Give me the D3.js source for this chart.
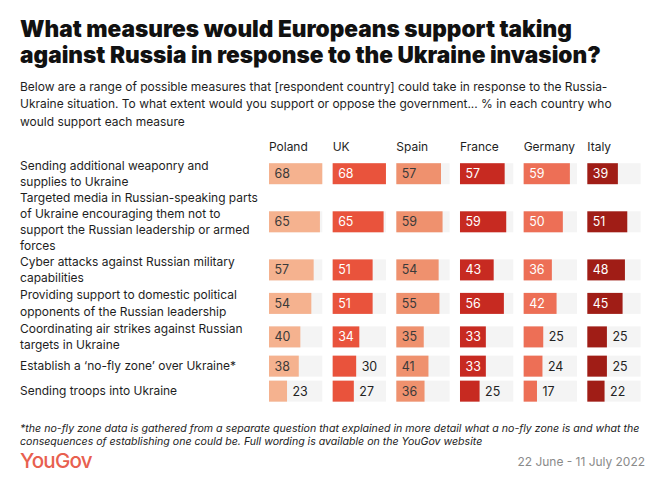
<!DOCTYPE html>
<html><head><meta charset="utf-8">
<script src="https://cdn.jsdelivr.net/npm/d3@7"></script>
<style>
html,body{margin:0;padding:0;background:#fff;}
svg{display:block;}
</style></head>
<body>
<script>
// ---------- data ----------
const countries = ["Poland", "UK", "Spain", "France", "Germany", "Italy"];
const measures = [
  ["Sending additional weaponry and", "supplies to Ukraine"],
  ["Targeted media in Russian-speaking parts", "of Ukraine encouraging them not to", "support the Russian leadership or armed", "forces"],
  ["Cyber attacks against Russian military", "capabilities"],
  ["Providing support to domestic political", "opponents of the Russian leadership"],
  ["Coordinating air strikes against Russian", "targets in Ukraine"],
  ["Establish a \u2018no-fly zone\u2019 over Ukraine*"],
  ["Sending troops into Ukraine"]
];
const poland  = [68, 65, 57, 54, 40, 38, 23];
const uk      = [68, 65, 51, 51, 34, 30, 27];
const spain   = [57, 59, 54, 55, 35, 41, 36];
const france  = [57, 59, 43, 56, 33, 33, 25];
const germany = [59, 50, 36, 42, 25, 24, 17];
const italy   = [39, 51, 48, 45, 25, 25, 22];
const seriesValues = [poland, uk, spain, france, germany, italy];

const titleLines = ["What measures would Europeans support taking", "against Russia in response to the Ukraine invasion?"];
const subtitleLines = [
  "Below are a range of possible measures that [respondent country] could take in response to the Russia-",
  "Ukraine situation. To what extent would you support or oppose the government... % in each country who",
  "would support each measure"
];
const footnoteLines = [
  "*the no-fly zone data is gathered from a separate question that explained in more detail what a no-fly zone is and what the",
  "consequences of establishing one could be. Full wording is available on the YouGov website"
];
const sourceText = "22 June - 11 July 2022";
const brandText = "YouGov";

// ---------- style ----------
const W = 670, H = 493;
const colors = ["#f5b28f", "#e9533c", "#ef916e", "#c72a21", "#ed6f56", "#a01d16"];
const darkText = ["#3a3a3a", "#fff", "#3a3a3a", "#fff", "#fff", "#fff"];
const FONT = "Inter, 'Noto Sans', sans-serif";

const svg = d3.select("body").append("svg").attr("width", W).attr("height", H)
  .style("font-family", FONT);

function fit(sel, target) {
  const w = sel.node().getComputedTextLength();
  const fs = parseFloat(sel.attr("font-size"));
  return fs * target / w;
}

// Title
const title = svg.append("g");
const t1 = title.append("text").attr("x", 20).attr("y", 37).attr("font-size", 24)
  .attr("font-weight", 900).attr("fill", "#111").text(titleLines[0]);
const tfs = fit(t1, 552);
t1.attr("font-size", tfs);
title.append("text").attr("x", 20).attr("y", 63).attr("font-size", tfs)
  .attr("font-weight", 900).attr("fill", "#111").text(titleLines[1]);

// Subtitle
const s0 = svg.append("text").attr("font-size", 13).text(subtitleLines[0]);
const sfs = fit(s0, 588); s0.remove();
svg.append("g").selectAll("text").data(subtitleLines).join("text")
  .attr("x", 20).attr("y", (d, i) => 90.5 + i * 17.5)
  .attr("font-size", sfs).attr("fill", "#1e1e1e").text(d => d);

// Row layout
const rowH = measures.map(m => Math.max(25, 14.6 * m.length + 4.3));
const centers = [];
let acc = 173.7 - rowH[0] / 2;
rowH.forEach((h, i) => { centers.push(acc + h / 2); acc += h; });

const l0 = svg.append("text").attr("font-size", 13).text(measures[1][0]);
const lfs = fit(l0, 238); l0.remove();

// Scales
const xBand = d3.scaleBand().domain(countries).range([269, 640.6]).paddingInner(0.163).paddingOuter(0);
const xVal = d3.scaleLinear().domain([0, 68]).range([0, xBand.bandwidth()]);
const barH = 21;

// Header
svg.append("g").selectAll("text").data(countries).join("text")
  .attr("x", d => xBand(d)).attr("y", 150.5)
  .attr("font-size", lfs).attr("fill", "#1e1e1e").text(d => d);

// Row labels
const labelG = svg.append("g");
measures.forEach((lines, i) => {
  const lh = 16.3;
  const top = centers[i] - (lines.length - 1) * lh / 2;
  labelG.selectAll(null).data(lines).join("text")
    .attr("x", 20).attr("y", (d, j) => top + j * lh)
    .attr("dy", "0.35em").attr("font-size", lfs).attr("fill", "#1e1e1e").text(d => d);
});

// Bars
countries.forEach((c, ci) => {
  const g = svg.append("g");
  const vals = seriesValues[ci];
  g.selectAll("rect.track").data(vals).join("rect").attr("class", "track")
    .attr("x", xBand(c)).attr("y", (d, i) => centers[i] - barH / 2)
    .attr("width", xBand.bandwidth()).attr("height", barH).attr("fill", "#f4f4f4");
  g.selectAll("rect.bar").data(vals).join("rect").attr("class", "bar")
    .attr("x", xBand(c)).attr("y", (d, i) => centers[i] - barH / 2)
    .attr("width", d => xVal(d)).attr("height", barH).attr("fill", colors[ci]);
  g.selectAll("text").data(vals).join("text")
    .attr("x", d => d >= 33 ? xBand(c) + 5.5 : xBand(c) + xVal(d) + 5.5)
    .attr("y", (d, i) => centers[i]).attr("dy", "0.36em")
    .attr("font-size", lfs * 1.04)
    .attr("fill", d => d >= 33 ? darkText[ci] : "#222")
    .text(d => d);
});

// Footnote
const f0 = svg.append("text").attr("font-size", 12).attr("font-style", "italic").text(footnoteLines[0]);
const ffs = fit(f0, 620); f0.remove();
svg.append("g").selectAll("text").data(footnoteLines).join("text")
  .attr("x", 20).attr("y", (d, i) => 432 + i * 12.5)
  .attr("font-size", ffs).attr("font-style", "italic").attr("fill", "#222").text(d => d);

// Brand + source
const brand = svg.append("text").attr("x", 20).attr("y", 468).attr("font-size", 22)
  .attr("font-weight", 500).attr("fill", "#e8604f").attr("letter-spacing", -0.8).text(brandText);
const bfs = fit(brand, 72); brand.attr("font-size", bfs);
svg.append("text").attr("x", 645).attr("y", 466).attr("text-anchor", "end")
  .attr("font-size", lfs).attr("fill", "#8a8a8a").text(sourceText);
</script>
</body></html>
